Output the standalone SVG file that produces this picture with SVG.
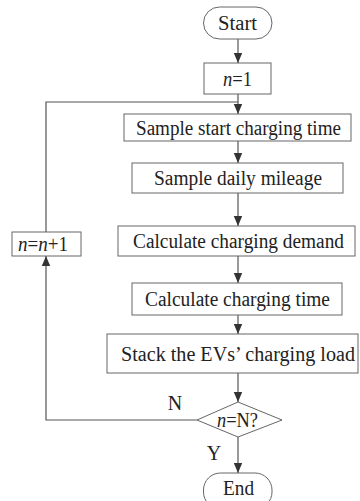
<svg xmlns="http://www.w3.org/2000/svg" width="360" height="501" viewBox="0 0 360 501">
<defs>
<marker id="ah" markerWidth="10" markerHeight="12" refX="10" refY="5" orient="auto" markerUnits="userSpaceOnUse">
<path d="M0,0.8 L10,5 L0,9.2 z" fill="#333"/>
</marker>
<style>
.b{fill:#fff;stroke:#666;stroke-width:1}
.t{font-family:"Liberation Serif",serif;font-size:20px;fill:#222;text-anchor:middle;dominant-baseline:central}
.c{fill:none;stroke:#555;stroke-width:1.2}
</style>
</defs>
<rect width="360" height="501" fill="#fff"/>
<g id="connectors">
<path class="c" d="M238,39 V63" marker-end="url(#ah)"/>
<path class="c" d="M238,94 V114" marker-end="url(#ah)"/>
<path class="c" d="M238,141 V163" marker-end="url(#ah)"/>
<path class="c" d="M238,193 V226" marker-end="url(#ah)"/>
<path class="c" d="M238,256 V283" marker-end="url(#ah)"/>
<path class="c" d="M238,315 V334" marker-end="url(#ah)"/>
<path class="c" d="M238,373 V402" marker-end="url(#ah)"/>
<path class="c" d="M238,437 V473" marker-end="url(#ah)"/>
<path class="c" d="M197,420 H46 V256" marker-end="url(#ah)"/>
<path class="c" d="M46,232 V102 H238"/>
</g>
<g id="start"><rect class="b" x="203.5" y="7" width="68.5" height="32" rx="16"/><text class="t" x="237.5" y="23" textLength="39" lengthAdjust="spacingAndGlyphs">Start</text></g>
<g id="init"><rect class="b" x="204" y="63" width="67" height="31"/><text class="t" x="237.5" y="79" textLength="29" lengthAdjust="spacingAndGlyphs"><tspan font-style="italic">n</tspan>=1</text></g>
<g id="sample-start"><rect class="b" x="124" y="114" width="227" height="27"/><text class="t" x="238.5" y="128" textLength="205" lengthAdjust="spacingAndGlyphs">Sample start charging time</text></g>
<g id="sample-mileage"><rect class="b" x="132" y="163" width="211" height="30"/><text class="t" x="238" y="178" textLength="168" lengthAdjust="spacingAndGlyphs">Sample daily mileage</text></g>
<g id="calc-demand"><rect class="b" x="118" y="226" width="237" height="30"/><text class="t" x="238.5" y="241" textLength="211" lengthAdjust="spacingAndGlyphs">Calculate charging demand</text></g>
<g id="calc-time"><rect class="b" x="132" y="283" width="210" height="32"/><text class="t" x="237.5" y="299" textLength="185" lengthAdjust="spacingAndGlyphs">Calculate charging time</text></g>
<g id="stack"><rect class="b" x="107" y="334" width="251" height="39"/><text class="t" x="238" y="354" textLength="234" lengthAdjust="spacingAndGlyphs">Stack the EVs’  charging load</text></g>
<g id="decision"><polygon class="b" points="238,402 282,420 238,437 197,420"/><text class="t" x="237.5" y="420" textLength="41" lengthAdjust="spacingAndGlyphs"><tspan font-style="italic">n</tspan>=N?</text></g>
<g id="increment"><rect class="b" x="12" y="232" width="69" height="24"/><text class="t" x="43" y="244" textLength="50" lengthAdjust="spacingAndGlyphs"><tspan font-style="italic">n</tspan>=<tspan font-style="italic">n</tspan>+1</text></g>
<g id="end"><rect class="b" x="203.5" y="473" width="68.5" height="36" rx="17"/><text class="t" x="238.5" y="488" textLength="31" lengthAdjust="spacingAndGlyphs">End</text></g>
<text class="t" x="175" y="403">N</text>
<text class="t" x="214" y="453">Y</text>
</svg>
